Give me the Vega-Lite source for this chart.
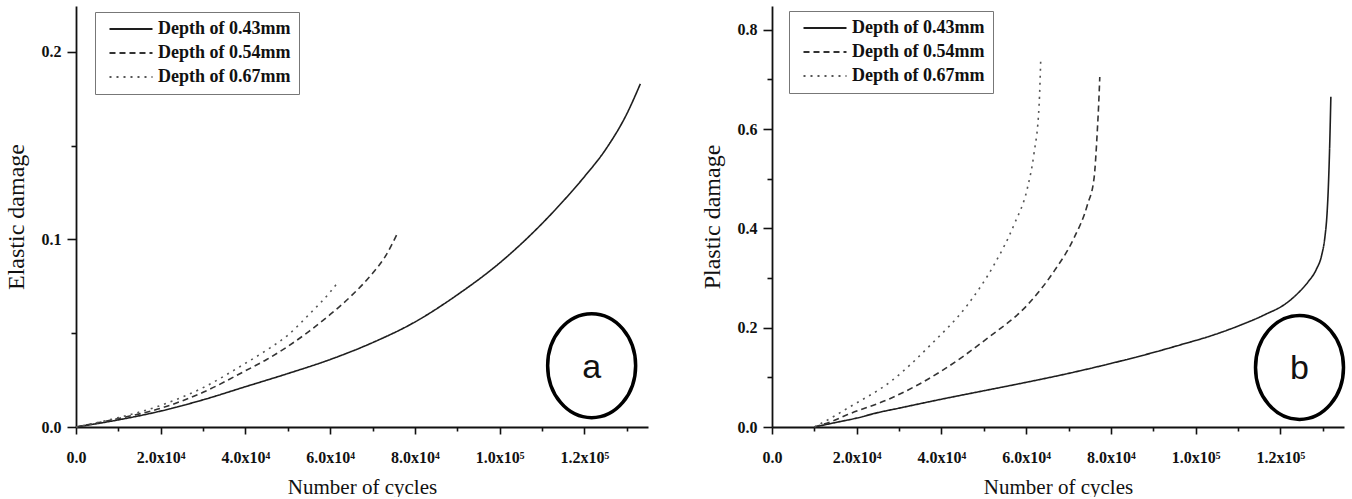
{
  "$schema": "https://vega.github.io/schema/vega-lite/v6.json",
  "padding": {"left": 4, "top": 6, "right": 0, "bottom": 0},
  "spacing": 52,
  "config": {
    "view": {"stroke": null},
    "font": "Liberation Serif",
    "axis": {
      "domainColor": "#111", "domainWidth": 1.8, "tickColor": "#111", "tickWidth": 1.6,
      "labelFont": "Liberation Serif", "labelFontSize": 16, "labelFontWeight": "bold", "labelColor": "#111",
      "titleFont": "Liberation Serif", "titleFontWeight": "normal", "titleColor": "#111", "grid": false,
      "labelOverlap": false, "labelFlush": false
    },
    "axisX": {"titleFontSize": 21, "labelPadding": 15, "titlePadding": 11},
    "axisY": {"titleFontSize": 24, "labelPadding": 6, "titlePadding": 13},
    "legend": {
      "strokeColor": "#777", "fillColor": "white", "padding": 8,
      "labelFont": "Liberation Serif", "labelFontSize": 18, "labelFontWeight": "bold", "labelColor": "#111",
      "symbolType": "M-2.867,0L2.867,0", "symbolSize": 225, "symbolStrokeWidth": 2,
      "symbolOffset": 19, "labelOffset": 18, "rowPadding": 6
    }
  },
  "resolve": {
    "scale": {"color": "independent", "strokeDash": "independent"},
    "legend": {"color": "independent", "strokeDash": "independent"}
  },
  "datasets": {
    "elastic": [
      {"depth": "Depth of 0.43mm", "n": 0, "d": 0},
      {"depth": "Depth of 0.43mm", "n": 10000, "d": 0.0038},
      {"depth": "Depth of 0.43mm", "n": 20000, "d": 0.0085},
      {"depth": "Depth of 0.43mm", "n": 30000, "d": 0.0145},
      {"depth": "Depth of 0.43mm", "n": 40000, "d": 0.0215},
      {"depth": "Depth of 0.43mm", "n": 50000, "d": 0.0285},
      {"depth": "Depth of 0.43mm", "n": 60000, "d": 0.036},
      {"depth": "Depth of 0.43mm", "n": 70000, "d": 0.045},
      {"depth": "Depth of 0.43mm", "n": 80000, "d": 0.056},
      {"depth": "Depth of 0.43mm", "n": 90000, "d": 0.0705},
      {"depth": "Depth of 0.43mm", "n": 100000, "d": 0.0875},
      {"depth": "Depth of 0.43mm", "n": 105000, "d": 0.0975},
      {"depth": "Depth of 0.43mm", "n": 110000, "d": 0.1085},
      {"depth": "Depth of 0.43mm", "n": 115000, "d": 0.1205},
      {"depth": "Depth of 0.43mm", "n": 120000, "d": 0.1335},
      {"depth": "Depth of 0.43mm", "n": 125000, "d": 0.148},
      {"depth": "Depth of 0.43mm", "n": 130000, "d": 0.167},
      {"depth": "Depth of 0.43mm", "n": 133200, "d": 0.183},
      {"depth": "Depth of 0.54mm", "n": 0, "d": 0},
      {"depth": "Depth of 0.54mm", "n": 10000, "d": 0.0045},
      {"depth": "Depth of 0.54mm", "n": 20000, "d": 0.01},
      {"depth": "Depth of 0.54mm", "n": 30000, "d": 0.0185},
      {"depth": "Depth of 0.54mm", "n": 40000, "d": 0.03},
      {"depth": "Depth of 0.54mm", "n": 45000, "d": 0.036},
      {"depth": "Depth of 0.54mm", "n": 50000, "d": 0.043},
      {"depth": "Depth of 0.54mm", "n": 55000, "d": 0.051},
      {"depth": "Depth of 0.54mm", "n": 60000, "d": 0.06},
      {"depth": "Depth of 0.54mm", "n": 65000, "d": 0.07},
      {"depth": "Depth of 0.54mm", "n": 70000, "d": 0.082},
      {"depth": "Depth of 0.54mm", "n": 73000, "d": 0.091},
      {"depth": "Depth of 0.54mm", "n": 75800, "d": 0.103},
      {"depth": "Depth of 0.67mm", "n": 0, "d": 0},
      {"depth": "Depth of 0.67mm", "n": 10000, "d": 0.005},
      {"depth": "Depth of 0.67mm", "n": 20000, "d": 0.0115},
      {"depth": "Depth of 0.67mm", "n": 30000, "d": 0.021},
      {"depth": "Depth of 0.67mm", "n": 40000, "d": 0.034},
      {"depth": "Depth of 0.67mm", "n": 45000, "d": 0.041},
      {"depth": "Depth of 0.67mm", "n": 50000, "d": 0.049},
      {"depth": "Depth of 0.67mm", "n": 55000, "d": 0.06},
      {"depth": "Depth of 0.67mm", "n": 60000, "d": 0.072},
      {"depth": "Depth of 0.67mm", "n": 62100, "d": 0.078}
    ],
    "plastic": [
      {"depth": "Depth of 0.43mm", "n": 10000, "d": 0},
      {"depth": "Depth of 0.43mm", "n": 15000, "d": 0.009},
      {"depth": "Depth of 0.43mm", "n": 20000, "d": 0.018},
      {"depth": "Depth of 0.43mm", "n": 25000, "d": 0.029},
      {"depth": "Depth of 0.43mm", "n": 30000, "d": 0.038},
      {"depth": "Depth of 0.43mm", "n": 40000, "d": 0.056},
      {"depth": "Depth of 0.43mm", "n": 50000, "d": 0.073},
      {"depth": "Depth of 0.43mm", "n": 60000, "d": 0.09},
      {"depth": "Depth of 0.43mm", "n": 70000, "d": 0.108},
      {"depth": "Depth of 0.43mm", "n": 80000, "d": 0.128},
      {"depth": "Depth of 0.43mm", "n": 90000, "d": 0.15},
      {"depth": "Depth of 0.43mm", "n": 97000, "d": 0.167},
      {"depth": "Depth of 0.43mm", "n": 103000, "d": 0.182},
      {"depth": "Depth of 0.43mm", "n": 109000, "d": 0.2},
      {"depth": "Depth of 0.43mm", "n": 116500, "d": 0.227},
      {"depth": "Depth of 0.43mm", "n": 121000, "d": 0.247},
      {"depth": "Depth of 0.43mm", "n": 124300, "d": 0.271},
      {"depth": "Depth of 0.43mm", "n": 126500, "d": 0.292},
      {"depth": "Depth of 0.43mm", "n": 128500, "d": 0.318},
      {"depth": "Depth of 0.43mm", "n": 129700, "d": 0.345},
      {"depth": "Depth of 0.43mm", "n": 130500, "d": 0.383},
      {"depth": "Depth of 0.43mm", "n": 131000, "d": 0.43},
      {"depth": "Depth of 0.43mm", "n": 131300, "d": 0.482},
      {"depth": "Depth of 0.43mm", "n": 131600, "d": 0.56},
      {"depth": "Depth of 0.43mm", "n": 131900, "d": 0.665},
      {"depth": "Depth of 0.54mm", "n": 10000, "d": 0},
      {"depth": "Depth of 0.54mm", "n": 14000, "d": 0.011},
      {"depth": "Depth of 0.54mm", "n": 17850, "d": 0.025},
      {"depth": "Depth of 0.54mm", "n": 28070, "d": 0.058},
      {"depth": "Depth of 0.54mm", "n": 39860, "d": 0.112},
      {"depth": "Depth of 0.54mm", "n": 50870, "d": 0.179},
      {"depth": "Depth of 0.54mm", "n": 60300, "d": 0.246},
      {"depth": "Depth of 0.54mm", "n": 66590, "d": 0.314},
      {"depth": "Depth of 0.54mm", "n": 71300, "d": 0.381},
      {"depth": "Depth of 0.54mm", "n": 74460, "d": 0.448},
      {"depth": "Depth of 0.54mm", "n": 76020, "d": 0.502},
      {"depth": "Depth of 0.54mm", "n": 76800, "d": 0.6},
      {"depth": "Depth of 0.54mm", "n": 77100, "d": 0.65},
      {"depth": "Depth of 0.54mm", "n": 77360, "d": 0.705},
      {"depth": "Depth of 0.67mm", "n": 10000, "d": 0},
      {"depth": "Depth of 0.67mm", "n": 13500, "d": 0.016},
      {"depth": "Depth of 0.67mm", "n": 17850, "d": 0.038},
      {"depth": "Depth of 0.67mm", "n": 28070, "d": 0.092},
      {"depth": "Depth of 0.67mm", "n": 37500, "d": 0.166},
      {"depth": "Depth of 0.67mm", "n": 46150, "d": 0.246},
      {"depth": "Depth of 0.67mm", "n": 52430, "d": 0.327},
      {"depth": "Depth of 0.67mm", "n": 57150, "d": 0.408},
      {"depth": "Depth of 0.67mm", "n": 60300, "d": 0.482},
      {"depth": "Depth of 0.67mm", "n": 61800, "d": 0.549},
      {"depth": "Depth of 0.67mm", "n": 63050, "d": 0.65},
      {"depth": "Depth of 0.67mm", "n": 63440, "d": 0.744}
    ],
    "markA": [{"n": 121700, "d": 0.0327, "label": "a"}],
    "markB": [{"n": 124500, "d": 0.12, "label": "b"}]
  },
  "hconcat": [
    {
      "width": 572,
      "height": 421,
      "layer": [
        {
          "data": {"name": "elastic"},
          "mark": {"type": "line", "strokeWidth": 1.6, "interpolate": "monotone"},
          "encoding": {
            "x": {
              "field": "n", "type": "quantitative",
              "scale": {"domain": [0, 135000], "nice": false, "zero": false},
              "axis": {
                "title": "Number of cycles",
                "values": [0, 10000, 20000, 30000, 40000, 50000, 60000, 70000, 80000, 90000, 100000, 110000, 120000, 130000],
                "labelExpr": "datum.value % 20000 != 0 ? '' : datum.value == 0 ? '0.0' : datum.value < 100000 ? format(datum.value / 10000, '.1f') + 'x10⁴' : format(datum.value / 100000, '.1f') + 'x10⁵'",
                "tickSize": {"condition": {"test": "datum.value % 20000 == 0", "value": 7}, "value": 4}
              }
            },
            "y": {
              "field": "d", "type": "quantitative",
              "scale": {"domain": [0, 0.2245], "nice": false},
              "axis": {
                "title": "Elastic damage",
                "values": [0, 0.05, 0.1, 0.15, 0.2],
                "labelExpr": "round(datum.value * 100) % 10 == 0 ? format(datum.value, '.1f') : ''",
                "tickSize": {"condition": {"test": "round(datum.value * 100) % 10 == 0", "value": 9}, "value": 5}
              }
            },
            "strokeDash": {
              "field": "depth", "type": "nominal",
              "scale": {"domain": ["Depth of 0.43mm", "Depth of 0.54mm", "Depth of 0.67mm"], "range": [[1, 0], [6, 4], [2, 5]]},
              "legend": {"title": null, "orient": "none", "legendX": 19, "legendY": 6}
            },
            "color": {
              "field": "depth", "type": "nominal",
              "scale": {"domain": ["Depth of 0.43mm", "Depth of 0.54mm", "Depth of 0.67mm"], "range": ["#1e1e1e", "#333333", "#555555"]},
              "legend": {"title": null, "orient": "none", "legendX": 19, "legendY": 6}
            }
          }
        },
        {
          "data": {"name": "markA"},
          "mark": {"type": "point", "shape": "M0,-1C0.467,-1 0.846,-0.552 0.846,0C0.846,0.552 0.467,1 0,1C-0.467,1 -0.846,0.552 -0.846,0C-0.846,-0.552 -0.467,-1 0,-1Z", "size": 10816, "filled": false, "stroke": "#000", "strokeWidth": 3.5, "opacity": 1},
          "encoding": {
            "x": {"field": "n", "type": "quantitative"},
            "y": {"field": "d", "type": "quantitative"}
          }
        },
        {
          "data": {"name": "markA"},
          "mark": {"type": "text", "font": "Liberation Sans", "fontSize": 34, "color": "#111", "baseline": "middle", "align": "center", "dy": 2},
          "encoding": {
            "x": {"field": "n", "type": "quantitative"},
            "y": {"field": "d", "type": "quantitative"},
            "text": {"field": "label"}
          }
        }
      ]
    },
    {
      "width": 572,
      "height": 421,
      "layer": [
        {
          "data": {"name": "plastic"},
          "mark": {"type": "line", "strokeWidth": 1.6, "interpolate": "monotone"},
          "encoding": {
            "x": {
              "field": "n", "type": "quantitative",
              "scale": {"domain": [0, 135000], "nice": false, "zero": false},
              "axis": {
                "title": "Number of cycles",
                "values": [0, 10000, 20000, 30000, 40000, 50000, 60000, 70000, 80000, 90000, 100000, 110000, 120000, 130000],
                "labelExpr": "datum.value % 20000 != 0 ? '' : datum.value == 0 ? '0.0' : datum.value < 100000 ? format(datum.value / 10000, '.1f') + 'x10⁴' : format(datum.value / 100000, '.1f') + 'x10⁵'",
                "tickSize": {"condition": {"test": "datum.value % 20000 == 0", "value": 7}, "value": 4}
              }
            },
            "y": {
              "field": "d", "type": "quantitative",
              "scale": {"domain": [0, 0.848], "nice": false},
              "axis": {
                "title": "Plastic damage",
                "values": [0, 0.1, 0.2, 0.3, 0.4, 0.5, 0.6, 0.7, 0.8],
                "labelExpr": "round(datum.value * 10) % 2 == 0 ? format(datum.value, '.1f') : ''",
                "tickSize": {"condition": {"test": "round(datum.value * 10) % 2 == 0", "value": 9}, "value": 5}
              }
            },
            "strokeDash": {
              "field": "depth", "type": "nominal",
              "scale": {"domain": ["Depth of 0.43mm", "Depth of 0.54mm", "Depth of 0.67mm"], "range": [[1, 0], [6, 4], [2, 5]]},
              "legend": {"title": null, "orient": "none", "legendX": 17, "legendY": 5}
            },
            "color": {
              "field": "depth", "type": "nominal",
              "scale": {"domain": ["Depth of 0.43mm", "Depth of 0.54mm", "Depth of 0.67mm"], "range": ["#1e1e1e", "#333333", "#555555"]},
              "legend": {"title": null, "orient": "none", "legendX": 17, "legendY": 5}
            }
          }
        },
        {
          "data": {"name": "markB"},
          "mark": {"type": "point", "shape": "M0,-1C0.467,-1 0.846,-0.552 0.846,0C0.846,0.552 0.467,1 0,1C-0.467,1 -0.846,0.552 -0.846,0C-0.846,-0.552 -0.467,-1 0,-1Z", "size": 10816, "filled": false, "stroke": "#000", "strokeWidth": 3.5, "opacity": 1},
          "encoding": {
            "x": {"field": "n", "type": "quantitative"},
            "y": {"field": "d", "type": "quantitative"}
          }
        },
        {
          "data": {"name": "markB"},
          "mark": {"type": "text", "font": "Liberation Sans", "fontSize": 34, "color": "#111", "baseline": "middle", "align": "center", "dy": 2},
          "encoding": {
            "x": {"field": "n", "type": "quantitative"},
            "y": {"field": "d", "type": "quantitative"},
            "text": {"field": "label"}
          }
        }
      ]
    }
  ]
}
